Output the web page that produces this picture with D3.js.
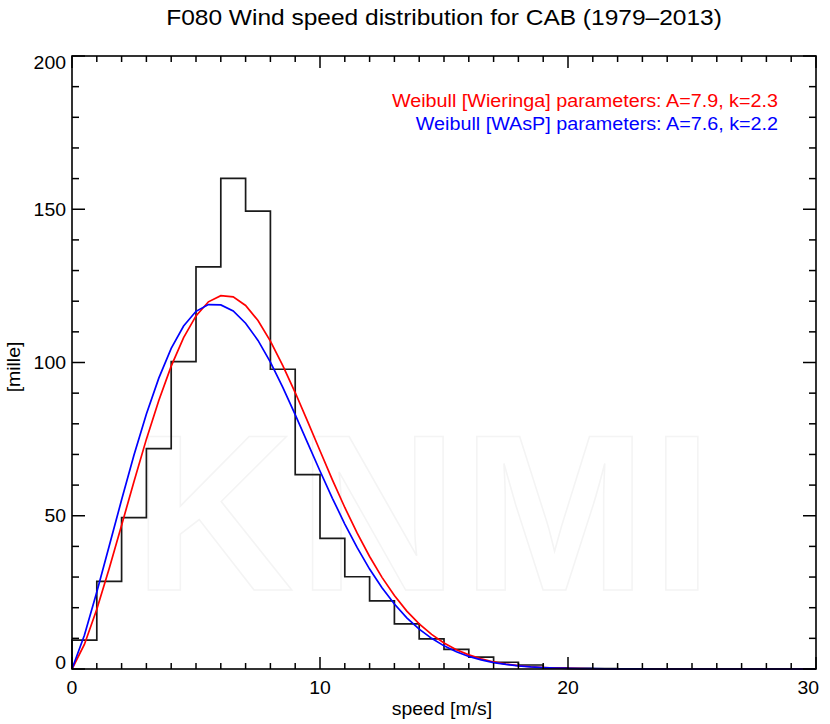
<!DOCTYPE html>
<html>
<head>
<meta charset="utf-8">
<script src="https://cdn.jsdelivr.net/npm/d3@7"></script>
<style>
  html, body { margin: 0; padding: 0; background: #fff; }
  svg { display: block; }
  text { font-family: "Liberation Sans", Arial, Helvetica, sans-serif; }
</style>
</head>
<body>
<svg id="chart" width="830" height="724"></svg>
<script>
// ---------------- data ----------------
const titleText = "F080 Wind speed distribution for CAB (1979\u20132013)";
const xLabel = "speed [m/s]";
const yLabel = "[mille]";

// histogram bins (lower edge of each 1 m/s bin) and frequencies in per mille
const binStart = [0,1,2,3,4,5,6,7,8,9,10,11,12,13,14,15,16,17,18,19,20,21,22,23,24,25,26,27,28,29];
const binValue = [9.4,28.6,49.4,71.9,100.3,131.2,160.1,149.4,97.8,63.4,42.6,30.1,22.2,14.7,9.8,6.4,3.9,2.2,1.3,0.4,0.2,0.1,0,0,0,0,0,0,0,0];

// Weibull curves, sampled every 0.5 m/s
const curveSpeed = [0,0.5,1,1.5,2,2.5,3,3.5,4,4.5,5,5.5,6,6.5,7,7.5,8,8.5,9,9.5,10,10.5,11,11.5,12,12.5,13,13.5,14,14.5,15,15.5,16,16.5,17,17.5,18,18.5,19,19.5,20,20.5,21,21.5,22,22.5,23,23.5,24,24.5,25,25.5,26,26.5,27,27.5,28,28.5,29,29.5,30];
const wieringa = [0,8.0,19.5,32.8,46.9,61.2,75.0,87.6,98.8,108.1,115.2,119.8,121.8,121.4,118.6,113.7,107.0,99.0,90.2,80.8,71.2,61.7,52.7,44.3,36.7,29.9,24.0,18.9,14.7,11.3,8.5,6.3,4.6,3.3,2.3,1.6,1.1,0.74,0.49,0.32,0.21,0.13,0.08,0.05,0.03,0.02,0.01,0,0,0,0,0,0,0,0,0,0,0,0,0,0];
const wasp = [0,11.0,25.1,40.1,55.2,69.8,83.2,94.9,104.6,111.9,116.7,118.9,118.8,116.8,112.8,107.2,100.1,91.9,83.0,73.8,64.6,55.7,47.3,39.6,32.6,26.5,21.2,16.7,13.0,10.0,7.55,5.6,4.1,3.0,2.1,1.5,1.04,0.71,0.48,0.32,0.21,0.14,0.09,0.06,0.04,0.02,0.015,0,0,0,0,0,0,0,0,0,0,0,0,0,0];

const legendLines = [
  {text: "Weibull [Wieringa] parameters: A=7.9, k=2.3", color: "#ff0000"},
  {text: "Weibull [WAsP] parameters: A=7.6, k=2.2", color: "#0000ff"}
];

const xMajorTicks = [0,10,20,30];
const yMajorTicks = [0,50,100,150,200];

// ---------------- layout ----------------
const svg = d3.select("#chart");
const L = 72, R = 816, T = 56, B = 669;
const SX = 1.08; // horizontal text stretch

const x = d3.scaleLinear().domain([0,30]).range([L,R]);
const y = d3.scaleLinear().domain([0,200]).range([B,T]);

function stretchedText(parent, px, py, str, opts) {
  const g = parent.append("g").attr("transform", `translate(${px},${py}) scale(${SX},1)`);
  const t = g.append("text")
    .attr("x", 0).attr("y", 0)
    .attr("text-anchor", opts.anchor || "middle")
    .attr("font-size", opts.size)
    .attr("fill", opts.color || "#000")
    .text(str);
  return t;
}

// faint watermark
svg.append("text")
  .attr("x", 425).attr("y", 590)
  .attr("text-anchor", "middle")
  .attr("font-size", 222)
  .attr("font-weight", "bold")
  .attr("letter-spacing", 4)
  .attr("fill", "none")
  .attr("stroke", "#f4f4f4")
  .attr("stroke-width", 1.5)
  .text("KNMI");

// title
stretchedText(svg, 444, 25, titleText, {size: 22.7});

// histogram
const histPts = binStart.map((s,i) => [s, binValue[i]]);
histPts.push([30, binValue[binValue.length-1]]);
svg.append("path")
  .attr("d", d3.line().x(d => x(d[0])).y(d => y(d[1])).curve(d3.curveStepAfter)([[0,0]].concat(histPts)))
  .attr("fill", "none")
  .attr("stroke", "#1a1a1a")
  .attr("stroke-width", 1.7);

// curves
const lineGen = d3.line().x(d => x(d[0])).y(d => y(d[1]));
svg.append("path")
  .attr("d", lineGen(curveSpeed.map((s,i) => [s, wieringa[i]])))
  .attr("fill", "none").attr("stroke", "#ff0000").attr("stroke-width", 1.7);
svg.append("path")
  .attr("d", lineGen(curveSpeed.map((s,i) => [s, wasp[i]])))
  .attr("fill", "none").attr("stroke", "#0000ff").attr("stroke-width", 1.7);

// axes (inward ticks, on all four sides)
const xMinor = d3.range(0, 31, 1);
const yMinor = d3.range(0, 201, 10);
const axG = svg.append("g").attr("stroke", "#000").attr("stroke-width", 1.5);
xMinor.forEach(v => {
  const major = xMajorTicks.includes(v);
  const len = major ? 12 : 6;
  axG.append("line").attr("x1", x(v)).attr("x2", x(v)).attr("y1", B).attr("y2", B - len);
  axG.append("line").attr("x1", x(v)).attr("x2", x(v)).attr("y1", T).attr("y2", T + len);
});
yMinor.forEach(v => {
  const major = yMajorTicks.includes(v);
  const len = major ? 13 : 7;
  axG.append("line").attr("y1", y(v)).attr("y2", y(v)).attr("x1", L).attr("x2", L + len);
  axG.append("line").attr("y1", y(v)).attr("y2", y(v)).attr("x1", R).attr("x2", R - len);
});
svg.append("rect")
  .attr("x", L).attr("y", T).attr("width", R - L).attr("height", B - T)
  .attr("fill", "none").attr("stroke", "#000").attr("stroke-width", 1.6);

// tick labels
const labelSize = 18;
xMajorTicks.forEach(v => {
  const t = stretchedText(svg, x(v), 694, String(v), {size: labelSize});
  if (v === 30) { t.attr("text-anchor", "end"); t.node().parentNode.setAttribute("transform", `translate(819,694) scale(${SX},1)`); }
});
yMajorTicks.forEach(v => {
  let by = y(v) + 6.4;
  by = Math.max(by, T + 12.5);
  by = Math.min(by, B);
  stretchedText(svg, 66, by, String(v), {size: labelSize, anchor: "end"});
});

// axis titles
stretchedText(svg, 442, 715, xLabel, {size: labelSize});
svg.append("g").attr("transform", `translate(20,367) rotate(-90) scale(${SX},1)`)
  .append("text").attr("text-anchor", "middle").attr("font-size", labelSize).text(yLabel);

// legend
legendLines.forEach((d, i) => {
  stretchedText(svg, 778, 106.5 + i * 23.5, d.text, {size: 18.3, anchor: "end", color: d.color});
});
</script>
</body>
</html>
